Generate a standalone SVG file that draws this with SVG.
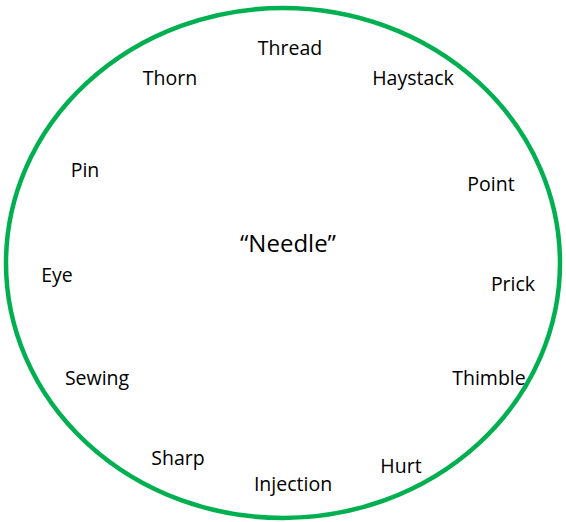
<svg xmlns="http://www.w3.org/2000/svg" width="566" height="522" viewBox="0 0 566 522">
<style>
.w{font-family:"Open Sans","Noto Sans",sans-serif;font-size:19.5px;fill:#000;text-anchor:middle}
.c{font-size:24px}
</style>
<rect width="566" height="522" fill="#fff"/>
<g id="circle"><ellipse cx="283" cy="263" rx="277" ry="255" fill="none" stroke="#00B050" stroke-width="4.5"/></g>
<g id="center"><text class="w c" x="288" y="252">“Needle”</text></g>
<g id="thread"><text class="w" x="290" y="55">Thread</text></g>
<g id="thorn"><text class="w" x="170" y="85">Thorn</text></g>
<g id="haystack"><text class="w" x="413" y="85">Haystack</text></g>
<g id="pin"><text class="w" x="85" y="177">Pin</text></g>
<g id="point"><text class="w" x="491" y="191">Point</text></g>
<g id="eye"><text class="w" x="57" y="282">Eye</text></g>
<g id="prick"><text class="w" x="513" y="291">Prick</text></g>
<g id="sewing"><text class="w" x="97" y="385">Sewing</text></g>
<g id="thimble"><text class="w" x="489" y="385">Thimble</text></g>
<g id="sharp"><text class="w" x="178" y="465">Sharp</text></g>
<g id="hurt"><text class="w" x="401" y="473">Hurt</text></g>
<g id="injection"><text class="w" x="293" y="491">Injection</text></g>
</svg>
